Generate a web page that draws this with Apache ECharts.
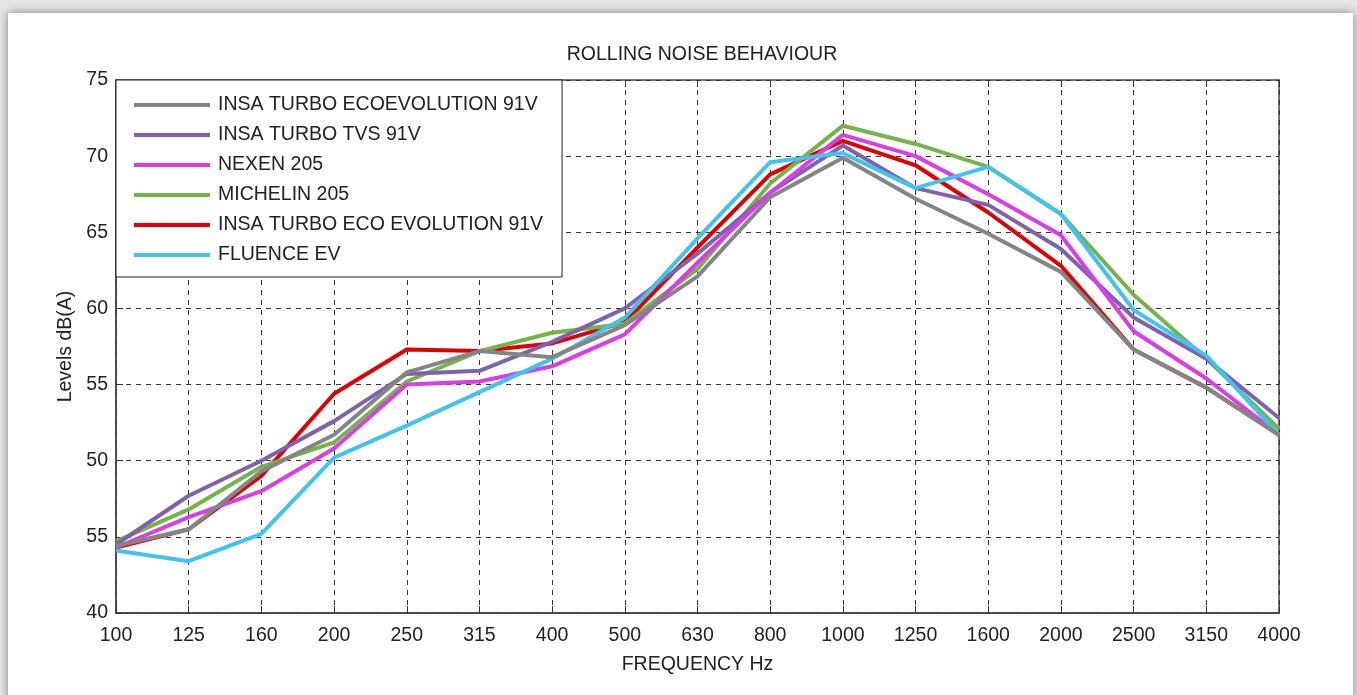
<!DOCTYPE html>
<html>
<head>
<meta charset="utf-8">
<title>Rolling noise behaviour</title>
<script src="https://cdn.jsdelivr.net/npm/echarts@6/dist/echarts.min.js"></script>
<style>
  html, body { margin: 0; padding: 0; }
  body {
    width: 1357px;
    height: 695px;
    background: #e6e6e6;
    overflow: hidden;
    position: relative;
  }
  .card {
    position: absolute;
    left: 8px;
    top: 13px;
    width: 1345px;
    height: 700px;
    background: #fff;
    box-shadow: 0 0 9px rgba(0, 0, 0, 0.45);
  }
  #chart {
    position: absolute;
    left: 0;
    top: 0;
    width: 1357px;
    height: 695px;
  }
</style>
</head>
<body>
<div class="card"></div>
<div id="chart"></div>
<script>
// ---- data ----
const frequencies = ['100', '125', '160', '200', '250', '315', '400', '500', '630',
  '800', '1000', '1250', '1600', '2000', '2500', '3150', '4000'];

// tick labels as printed (the 45 line really reads "55" in the original)
const yTickLabels = ['40', '55', '50', '55', '60', '65', '70', '75'];

const insaEcoEvolution = [44.4, 45.5, 49.3, 51.7, 55.8, 57.2, 56.8, 58.9, 62.1, 67.3, 69.9, 67.2, 64.9, 62.4, 57.3, 54.8, 51.7];
const insaTvs          = [44.5, 47.7, 50.0, 52.6, 55.7, 55.9, 57.8, 60.0, 63.6, 67.6, 70.7, 67.9, 66.8, 63.9, 59.4, 56.7, 52.8];
const nexen            = [44.3, 46.3, 48.0, 50.8, 55.0, 55.2, 56.2, 58.3, 63.0, 67.6, 71.4, 70.0, 67.5, 64.8, 58.5, 55.4, 51.7];
const michelin         = [44.7, 46.8, 49.6, 51.2, 55.2, 57.2, 58.4, 59.0, 62.6, 68.2, 72.0, 70.8, 69.3, 66.2, 60.9, 56.7, 52.1];
const insaEcoEvo2      = [44.3, 45.5, 49.0, 54.4, 57.3, 57.2, 57.7, 59.1, 64.0, 68.8, 71.0, 69.4, 66.3, 62.8, 57.3, 54.8, 51.7];
const fluenceEv        = [44.1, 43.4, 45.2, 50.2, 52.3, 54.5, 56.7, 59.4, 64.6, 69.6, 70.2, 67.9, 69.3, 66.2, 59.9, 56.9, 51.7];

const FONT = '"Liberation Sans", Arial, Helvetica, sans-serif';
const TXT = '#222';
const FS = 19.5;

const chart = echarts.init(document.getElementById('chart'));

// legend order differs from drawing order (grey sits on top of red in the picture)
const legendOrder = [
  'INSA TURBO ECOEVOLUTION 91V',
  'INSA TURBO TVS 91V',
  'NEXEN 205',
  'MICHELIN 205',
  'INSA TURBO ECO EVOLUTION 91V',
  'FLUENCE EV'
];

const mkLine = (name, data, color) => ({
  name,
  type: 'line',
  data,
  symbol: 'none',
  lineStyle: { color, width: 4 },
  itemStyle: { color },
  emphasis: { disabled: true }
});

chart.setOption({
  animation: false,
  textStyle: { fontFamily: FONT },
  title: {
    text: 'ROLLING NOISE BEHAVIOUR',
    left: 697,
    textAlign: 'center',
    top: 40,
    textStyle: { fontSize: FS, fontWeight: 'normal', color: TXT, fontFamily: FONT }
  },
  legend: {
    data: legendOrder,
    orient: 'vertical',
    left: 116,
    top: 80,
    padding: [15, 19, 12, 18],
    backgroundColor: '#fff',
    borderColor: '#222',
    borderWidth: 1,
    icon: 'rect',
    itemWidth: 76,
    itemHeight: 4,
    itemGap: 10,
    textStyle: { fontSize: FS, color: TXT, fontFamily: FONT, lineHeight: 20, padding: [0, 0, 0, 3] },
    z: 10
  },
  grid: {
    left: 116,
    right: 78,
    top: 80,
    bottom: 82,
    show: true,
    borderColor: '#444',
    borderWidth: 1.5,
    backgroundColor: 'transparent'
  },
  xAxis: [{
    type: 'category',
    data: frequencies,
    boundaryGap: false,
    name: 'FREQUENCY Hz',
    nameLocation: 'middle',
    nameGap: 42,
    nameTextStyle: { fontSize: FS, color: TXT, fontFamily: FONT },
    axisLine: { show: true, lineStyle: { color: '#444', width: 1.5 } },
    axisTick: { show: true, inside: true, length: 7, lineStyle: { color: '#333' } },
    axisLabel: { fontSize: FS, color: TXT, margin: 13, fontFamily: FONT },
    splitLine: { show: true, lineStyle: { color: '#333', type: [5, 5], width: 1 } }
  }, {
    type: 'category',
    data: frequencies,
    boundaryGap: false,
    position: 'top',
    axisLine: { show: false },
    axisTick: { show: true, inside: true, length: 7, lineStyle: { color: '#333' } },
    axisLabel: { show: false },
    splitLine: { show: false }
  }],
  yAxis: {
    type: 'value',
    min: 40,
    max: 75,
    interval: 5,
    name: 'Levels dB(A)',
    nameLocation: 'middle',
    nameGap: 38,
    nameTextStyle: { fontSize: FS, color: TXT, fontFamily: FONT },
    axisLine: { show: true, lineStyle: { color: '#444', width: 1.5 } },
    axisTick: { show: true, inside: true, length: 7, lineStyle: { color: '#333' } },
    axisLabel: {
      fontSize: FS,
      color: TXT,
      margin: 8,
      fontFamily: FONT,
      formatter: (v) => yTickLabels[Math.round((v - 40) / 5)]
    },
    splitLine: { show: true, lineStyle: { color: '#333', type: [5, 5], width: 1 } }
  },
  series: [
    mkLine('INSA TURBO ECO EVOLUTION 91V', insaEcoEvo2, '#e00000'),
    mkLine('MICHELIN 205', michelin, '#74b54a'),
    mkLine('INSA TURBO TVS 91V', insaTvs, '#7f62ae'),
    mkLine('NEXEN 205', nexen, '#d93ee6'),
    mkLine('FLUENCE EV', fluenceEv, '#40c4ef'),
    mkLine('INSA TURBO ECOEVOLUTION 91V', insaEcoEvolution, '#858585')
  ]
});

window.addEventListener('resize', () => chart.resize());
</script>
</body>
</html>
